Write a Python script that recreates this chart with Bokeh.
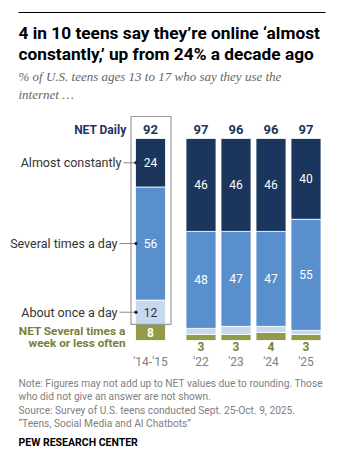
from bokeh.plotting import figure
from bokeh.models import Range1d, Label, ColumnDataSource
from bokeh.embed import file_html
from bokeh.resources import INLINE
from bokeh.core.properties import value

# ---- data ----
years = ["'14-'15", "'22", "'23", "'24", "'25"]
net_daily = [92, 97, 96, 96, 97]
almost_constantly = [24, 46, 46, 46, 40]
several_times_day = [56, 48, 47, 47, 55]
about_once_day = [12, 3, 4, 3, 2]
net_weekly_or_less = [8, 3, 3, 4, 3]
row_labels = ["Almost constantly", "Several times a day", "About once a day"]

title_lines = ["4 in 10 teens say they\u2019re online \u2018almost",
               "constantly,\u2019 up from 24% a decade ago"]
subtitle_lines = ["% of U.S. teens ages 13 to 17 who say they use the",
                  "internet \u2026"]
note_lines = ["Note: Figures may not add up to NET values due to rounding. Those",
              "who did not give an answer are not shown.",
              "Source: Survey of U.S. teens conducted Sept. 25-Oct. 9, 2025.",
              "\u201cTeens, Social Media and AI Chatbots\u201d"]
brand = "PEW RESEARCH CENTER"

# ---- layout / style ----
W, H = 337, 456
PX = 2.02          # pixels per percentage point
BASE = 340         # pixel row (from top) of 0%
FIRST_X, PITCH, GAP, BAR_W = 150, 35, 15.5, 30
NAVY, MID, LIGHT, OLIVE = "#1b365d", "#5a8fce", "#c6d9ee", "#949b48"
OLIVE_TXT = "#76803a"
FONT = "Roboto"


def D(ypx):
    """pixel row from top -> data value"""
    return (BASE - ypx) / PX


xs = [FIRST_X + i * PITCH + (GAP if i > 0 else 0) for i in range(len(years))]

p = figure(width=W, height=H, output_backend="svg", toolbar_location=None,
           x_range=Range1d(0, W), y_range=Range1d(D(H), D(0)),
           min_border=0, outline_line_color=None)
p.axis.visible = False
p.grid.visible = False
p.background_fill_color = "white"
p.border_fill_color = "white"

src = ColumnDataSource(dict(x=xs, year=years, nd=[str(v) for v in net_daily],
                            a=almost_constantly, s=several_times_day,
                            o=about_once_day, w=net_weekly_or_less))
p.vbar_stack(["w", "o", "s", "a"], x="x", width=BAR_W, source=src,
             color=[OLIVE, LIGHT, MID, NAVY], line_color="white", line_width=0.8)

# box around first bar
p.quad(left=[xs[0] - 19.5], right=[xs[0] + 20.5], bottom=[net_weekly_or_less[0]],
       top=[D(116)], fill_color=None, line_color="#9a9a9a", line_width=1.2)

n = len(years)
y_a = [net_weekly_or_less[i] + about_once_day[i] + several_times_day[i] + almost_constantly[i] / 2 for i in range(n)]
y_s = [net_weekly_or_less[i] + about_once_day[i] + several_times_day[i] / 2 for i in range(n)]
y_o = net_weekly_or_less[0] + about_once_day[0] / 2
top_val = [net_weekly_or_less[i] + about_once_day[i] + several_times_day[i] + almost_constantly[i] for i in range(n)]

p.text(x=xs, y=y_a, text=[str(v) for v in almost_constantly], text_align="center",
       text_baseline="middle", text_color="white", text_font_size="12px", text_font=value(FONT))
p.text(x=xs, y=y_s, text=[str(v) for v in several_times_day], text_align="center",
       text_baseline="middle", text_color="white", text_font_size="12px", text_font=value(FONT))
p.text(x=[xs[0]], y=[y_o], text=[str(about_once_day[0])], text_align="center",
       text_baseline="middle", text_color="#333333", text_font_size="12px", text_font=value(FONT))
p.text(x=[xs[0]], y=[net_weekly_or_less[0] / 2], text=[str(net_weekly_or_less[0])], text_align="center",
       text_baseline="middle", text_color="white", text_font_size="12px", text_font_style="bold",
       text_font=value(FONT))
p.text(x=xs[1:], y=[-6 / PX] * (n - 1), text=[str(v) for v in net_weekly_or_less[1:]],
       text_align="center", text_baseline="middle", text_color=OLIVE_TXT, text_font_size="12px",
       text_font_style="bold", text_font=value(FONT))

# NET daily header
p.text(x=xs, y=[t + 9 / PX for t in top_val], text=[str(v) for v in net_daily],
       text_align="center", text_baseline="middle", text_color=NAVY, text_font_size="13px",
       text_font_style="bold", text_font=value(FONT))
# years
p.text(x=xs, y=[-21.5 / PX] * n, text=years, text_align="center", text_baseline="middle",
       text_color="#808080", text_font_size="12px", text_font=value(FONT))

# left row labels with leaders
row_y = [y_a[0], y_s[0], y_o]
p.text(x=[121, 117, 117], y=row_y, text=row_labels, text_align="right", text_baseline="middle",
       text_color="#333333", text_font_size="12.5px", text_font=value(FONT))
p.segment(x0=[123, 119, 119], x1=[xs[0] - 15] * 3, y0=row_y, y1=row_y, line_color="#8a8a8a", line_width=1)
p.scatter(x=[xs[0] - 14.5] * 3, y=row_y, size=2.5, color="#222222")
p.text(x=[126], y=[top_val[0] + 9 / PX], text=["NET Daily"], text_align="right",
       text_baseline="middle", text_color=NAVY, text_font_size="12px", text_font_style="bold",
       text_font=value(FONT))
p.text(x=[125, 125], y=[D(330.7), D(342.3)], text=["NET Several times a", "week or less often"],
       text_align="right", text_baseline="middle", text_color=OLIVE_TXT, text_font_size="11.8px",
       text_font_style="bold", text_font=value(FONT))

# header / footer texts
p.segment(x0=[18], x1=[325], y0=[D(12)], y1=[D(12)], line_color="#000000", line_width=1)
for i, t in enumerate(title_lines):
    p.add_layout(Label(x=18, y=H - (32 + 21 * i), x_units="screen", y_units="screen", text=t,
                       text_baseline="middle", text_font=FONT, text_font_size="17.3px",
                       text_font_style="bold", text_color="#000000"))
for i, t in enumerate(subtitle_lines):
    p.add_layout(Label(x=18, y=H - (76 + 18 * i), x_units="screen", y_units="screen", text=t,
                       text_baseline="middle", text_font="Liberation Serif", text_font_size="13px",
                       text_font_style="italic", text_color="#666666"))
for i, t in enumerate(note_lines):
    p.add_layout(Label(x=18, y=H - (382.7 + 13.5 * i), x_units="screen", y_units="screen", text=t,
                       text_baseline="middle", text_font=FONT, text_font_size="10.2px",
                       text_color="#808080"))
p.add_layout(Label(x=18, y=H - 442, x_units="screen", y_units="screen", text=brand,
                   text_baseline="middle", text_font=FONT, text_font_size="10.5px",
                   text_font_style="bold", text_color="#000000"))

open("out.html", "w").write(file_html(p, INLINE))
